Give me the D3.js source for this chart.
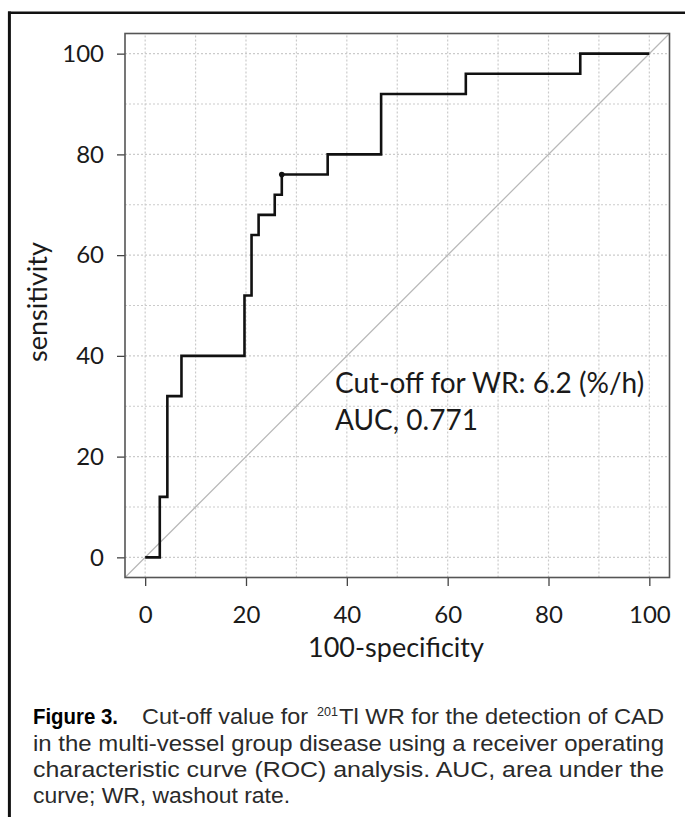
<!DOCTYPE html>
<html>
<head>
<meta charset="utf-8">
<script src="https://cdn.jsdelivr.net/npm/d3@7"></script>
<style>
  html, body { margin: 0; padding: 0; background: #fff; }
  svg { display: block; }
  .tick text { font-family: Lato, "Open Sans", sans-serif; font-size: 24px; fill: #1a1a1a; }
  .tick line { stroke: #444; stroke-width: 1.3; }
  .lbl { font-family: Lato, "Open Sans", sans-serif; font-size: 27px; fill: #1a1a1a; }
  .ann { font-family: Lato, "Open Sans", sans-serif; font-size: 28px; fill: #1a1a1a; }
  .cap { font-family: "Liberation Sans Narrow", "Arial Narrow", "Liberation Sans", sans-serif; font-size: 22px; fill: #2a2a2a; }
</style>
</head>
<body>
<svg id="chart"></svg>
<script>
// ROC curve: 100-specificity vs sensitivity (step corners)
var fpr  = [0, 2.9, 4.4, 7.2, 19.7, 21.1, 22.5, 25.7, 27.1, 36.2, 46.8, 63.6, 86.3, 100];
var sens = [0, 12, 32, 40, 52, 64, 68, 72, 76, 80, 92, 96, 100, 100];
var cutoffPoint = [27.1, 76];
var xTicks = [0, 20, 40, 60, 80, 100];
var yTicks = [0, 20, 40, 60, 80, 100];
var gridVals = [0, 10, 20, 30, 40, 50, 60, 70, 80, 90, 100];
var annotation = ["Cut-off for WR: 6.2 (%/h)", "AUC, 0.771"];

var width = 685, height = 817;
var svg = d3.select("#chart").attr("width", width).attr("height", height);
svg.append("rect").attr("width", width).attr("height", height).attr("fill", "#fff");

// outer figure frame (left and top edges visible)
svg.append("line").attr("x1", 9.4).attr("x2", 9.4).attr("y1", 11.5).attr("y2", height)
  .attr("stroke", "#111").attr("stroke-width", 3);
svg.append("line").attr("x1", 8).attr("x2", width).attr("y1", 12.8).attr("y2", 12.8)
  .attr("stroke", "#111").attr("stroke-width", 2.5);

var x = d3.scaleLinear().domain([-4, 104]).range([125, 669.5]);
var y = d3.scaleLinear().domain([-4, 104]).range([577.5, 33.5]);

// dotted grid
var grid = svg.append("g").attr("stroke", "#cbcbcb").attr("stroke-width", 1.2).attr("stroke-dasharray", "2,2");
grid.selectAll(".gx").data(gridVals).enter().append("line")
  .attr("x1", function (d) { return x(d); }).attr("x2", function (d) { return x(d); })
  .attr("y1", y(-4)).attr("y2", y(104));
grid.selectAll(".gy").data(gridVals).enter().append("line")
  .attr("y1", function (d) { return y(d); }).attr("y2", function (d) { return y(d); })
  .attr("x1", x(-4)).attr("x2", x(104));

// chance diagonal
svg.append("line")
  .attr("x1", x(-4)).attr("y1", y(-4)).attr("x2", x(104)).attr("y2", y(104))
  .attr("stroke", "#b8b8b8").attr("stroke-width", 1.3);

// axes
var xAxis = d3.axisBottom(x).tickValues(xTicks).tickSize(8.5).tickPadding(19.5);
var yAxis = d3.axisLeft(y).tickValues(yTicks).tickSize(8).tickPadding(13);
svg.append("g").attr("transform", "translate(0," + y(-4) + ")").call(xAxis)
  .call(function (g) { g.select(".domain").remove(); });
svg.append("g").attr("transform", "translate(" + x(-4) + ",0)").call(yAxis)
  .call(function (g) { g.select(".domain").remove(); });

// plot box
svg.append("rect")
  .attr("x", x(-4)).attr("y", y(104))
  .attr("width", x(104) - x(-4)).attr("height", y(-4) - y(104))
  .attr("fill", "none").attr("stroke", "#555").attr("stroke-width", 1.6);

// ROC curve
var line = d3.line()
  .x(function (d, i) { return x(fpr[i]); })
  .y(function (d, i) { return y(sens[i]); })
  .curve(d3.curveStepAfter);
svg.append("path").datum(fpr).attr("d", line)
  .attr("fill", "none").attr("stroke", "#111").attr("stroke-width", 2.6);

svg.append("circle").attr("cx", x(cutoffPoint[0])).attr("cy", y(cutoffPoint[1]))
  .attr("r", 2.8).attr("fill", "#111");

// axis titles
svg.append("text").attr("class", "lbl").attr("text-anchor", "middle")
  .attr("x", 396).attr("y", 657).text("100-specificity");
svg.append("text").attr("class", "lbl").attr("text-anchor", "middle")
  .attr("transform", "translate(47,302) rotate(-90)").text("sensitivity");

// annotation
svg.selectAll(".annl").data(annotation).enter().append("text").attr("class", "ann")
  .attr("x", 335).attr("y", function (d, i) { return 393 + i * 37; })
  .text(function (d) { return d; });

// caption
svg.append("text").attr("class", "cap").attr("x", 33).attr("y", 724)
  .attr("font-weight", "bold").attr("textLength", 85).attr("lengthAdjust", "spacingAndGlyphs")
  .style("fill", "#000").text("Figure 3.");
svg.append("text").attr("class", "cap").attr("x", 142).attr("y", 724)
  .attr("textLength", 166).attr("lengthAdjust", "spacingAndGlyphs").text("Cut-off value for");
svg.append("text").attr("class", "cap").attr("x", 317).attr("y", 716)
  .style("font-size", "13px").attr("textLength", 21).attr("lengthAdjust", "spacingAndGlyphs").text("201");
svg.append("text").attr("class", "cap").attr("x", 339).attr("y", 724)
  .attr("textLength", 325).attr("lengthAdjust", "spacingAndGlyphs").text("Tl WR for the detection of CAD");

var capLines = [
  ["in the multi-vessel group disease using a receiver operating", 750.5, 631],
  ["characteristic curve (ROC) analysis. AUC, area under the", 777, 631],
  ["curve; WR, washout rate.", 803, 257]
];
svg.selectAll(".capl").data(capLines).enter().append("text").attr("class", "cap")
  .attr("x", 33).attr("y", function (d) { return d[1]; })
  .attr("textLength", function (d) { return d[2]; })
  .attr("lengthAdjust", "spacingAndGlyphs")
  .text(function (d) { return d[0]; });
</script>
</body>
</html>
